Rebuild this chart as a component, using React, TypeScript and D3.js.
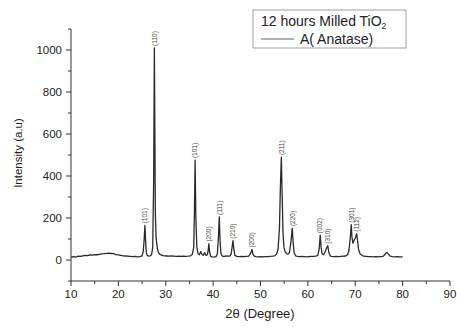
import React from "react";
import * as d3 from "d3";

const twoTheta: number[] = [
  10, 10.5, 11, 11.5, 12, 12.5, 13, 13.5, 14, 14.5, 15, 15.5, 16, 16.5, 17, 17.5, 18, 18.5, 19, 19.5,
  20, 20.5, 21, 21.5, 22, 22.5, 23, 23.5, 24, 24.5, 25, 25.25, 25.45, 25.6, 25.75, 25.9, 26.1, 26.4,
  26.7, 27.0, 27.25, 27.45, 27.6, 27.7, 27.8, 27.95, 28.1, 28.25, 28.45, 28.7, 29.0, 29.4, 29.8, 30.2,
  30.7, 31.2, 31.7, 32.2, 32.7, 33.2, 33.7, 34.2, 34.7, 35.2, 35.6, 35.9, 36.05, 36.2, 36.35, 36.55,
  36.8, 37.1, 37.4, 37.6, 37.9, 38.2, 38.5, 38.8, 38.95, 39.1, 39.25, 39.45, 39.8, 40.2, 40.6, 40.9,
  41.1, 41.3, 41.45, 41.65, 41.9, 42.3, 42.7, 43.1, 43.5, 43.8, 44.0, 44.2, 44.35, 44.6, 45, 45.5,
  46, 46.5, 47, 47.5, 47.9, 48.2, 48.4, 48.7, 49, 49.5, 50, 50.5, 51, 51.5, 52, 52.5, 53, 53.4,
  53.7, 54.0, 54.2, 54.4, 54.55, 54.75, 54.95, 55.2, 55.5, 55.8, 56.1, 56.4, 56.7, 56.9, 57.1, 57.4,
  57.8, 58.2, 58.7, 59.2, 59.7, 60.2, 60.7, 61.2, 61.7, 62.1, 62.4, 62.6, 62.8, 63.0, 63.3, 63.6,
  63.9, 64.2, 64.4, 64.7, 65, 65.5, 66, 66.5, 67, 67.5, 68, 68.4, 68.7, 69.0, 69.15, 69.3, 69.5,
  69.8, 70.1, 70.3, 70.5, 70.7, 71.0, 71.4, 71.8, 72.3, 72.8, 73.3, 73.8, 74.3, 74.8, 75.3, 75.8,
  76.2, 76.5, 76.7, 77.0, 77.4, 77.9, 78.4, 78.9, 79.4, 80,
];

const intensity: number[] = [
  12, 16, 14, 18, 17, 20, 22, 21, 24, 23, 26, 25, 27, 29, 30, 32, 33, 31, 30, 26,
  24, 22, 20, 19, 18, 17, 16, 17, 15, 16, 20, 40, 100, 165, 90, 35, 22, 18,
  20, 25, 60, 380, 1010, 620, 230, 110, 78, 52, 36, 28, 24, 21, 20, 19,
  18, 19, 18, 17, 18, 17, 18, 17, 18, 20, 26, 60, 220, 476, 210, 65,
  30, 25, 40, 28, 22, 35, 22, 25, 45, 78, 40, 18, 15, 14, 16, 30,
  100, 205, 100, 30, 20, 16, 20, 18, 18, 28, 60, 92, 55, 22, 17, 16,
  17, 16, 17, 18, 30, 50, 28, 18, 16, 15, 16, 15, 16, 16, 17, 18, 20, 28,
  50, 150, 350, 490, 330, 130, 60, 40, 30, 28, 35, 80, 152, 80, 35, 20,
  17, 16, 17, 16, 15, 16, 17, 17, 18, 22, 55, 118, 60, 30, 25, 38,
  55, 68, 38, 20, 17, 16, 17, 16, 17, 18, 19, 25, 50, 120, 168, 110, 80,
  95, 110, 125, 90, 50, 30, 22, 18, 17, 16, 16, 15, 16, 15, 16, 17,
  24, 33, 36, 28, 18, 16, 15, 16, 15, 15,
];

const peakPositions: number[] = [25.6, 27.6, 36.2, 39.1, 41.3, 44.2, 48.2, 54.4, 56.7, 62.6, 64.2, 69.15, 70.3];
const peakHeights: number[] = [165, 1010, 476, 78, 205, 92, 50, 490, 152, 118, 68, 168, 125];
const peakLabels: string[] = ["(101)", "(110)", "(101)", "(200)", "(111)", "(210)", "(200)", "(211)", "(220)", "(002)", "(310)", "(301)", "(112)"];

const xTicks: number[] = [10, 20, 30, 40, 50, 60, 70, 80, 90];
const yTicks: number[] = [0, 200, 400, 600, 800, 1000];

const W = 457;
const H = 327;
const left = 71;
const right = 450;
const top = 29;
const bottom = 281;

export default function App() {
  const x = d3.scaleLinear().domain([10, 90]).range([left, right]);
  const y = d3.scaleLinear().domain([-100, 1100]).range([bottom, top]);
  const pts: [number, number][] = twoTheta.map((t, i) => [t, intensity[i]]);
  const line = d3
    .line<[number, number]>()
    .x((d) => x(d[0]))
    .y((d) => y(d[1]));

  const xMinor = d3.range(15, 90, 10);
  const yMinor = d3.range(-100, 1101, 200);
  const axisColor = "#333";
  const textColor = "#222";
  const font = "Arial, 'Liberation Sans', sans-serif";

  return (
    <svg
      width={W}
      height={H}
      viewBox={`0 0 ${W} ${H}`}
      style={{ position: "absolute", left: 0, top: 0, background: "#fff" }}
      fontFamily={font}
    >
      <rect x={0} y={0} width={W} height={H} fill="#fff" />
      <path d={line(pts) || ""} fill="none" stroke="#2a2a2a" strokeWidth={1.3} strokeLinejoin="round" />

      {peakPositions.map((p, i) => {
        const px = x(p);
        const py = y(peakHeights[i]) - 2;
        return (
          <text
            key={i}
            transform={`translate(${px + 2.3},${py}) rotate(-90)`}
            fontSize={6.5}
            fontFamily={font}
            fill="#444"
          >
            {peakLabels[i]}
          </text>
        );
      })}

      <line x1={left} x2={left} y1={top} y2={bottom} stroke={axisColor} strokeWidth={1} />
      {yTicks.map((t) => (
        <g key={t}>
          <line x1={left - 5} x2={left} y1={y(t)} y2={y(t)} stroke={axisColor} />
          <text x={left - 9} y={y(t)} dy="0.35em" textAnchor="end" fontSize={11.5} fill={textColor}>
            {t}
          </text>
        </g>
      ))}
      {yMinor.map((t) => (
        <line key={"ym" + t} x1={left - 3} x2={left} y1={y(t)} y2={y(t)} stroke={axisColor} />
      ))}

      <line x1={left} x2={right} y1={bottom} y2={bottom} stroke={axisColor} strokeWidth={1} />
      {xTicks.map((t) => (
        <g key={t}>
          <line x1={x(t)} x2={x(t)} y1={bottom} y2={bottom + 5} stroke={axisColor} />
          <text x={x(t)} y={bottom + 17} textAnchor="middle" fontSize={11.5} fill={textColor}>
            {t}
          </text>
        </g>
      ))}
      {xMinor.map((t) => (
        <line key={"xm" + t} x1={x(t)} x2={x(t)} y1={bottom} y2={bottom + 3} stroke={axisColor} />
      ))}

      <text x={260} y={318} textAnchor="middle" fontSize={13} fill={textColor}>
        2θ (Degree)
      </text>
      <text transform={`translate(22,153) rotate(-90)`} textAnchor="middle" fontSize={11.5} fill={textColor}>
        Intensity (a.u)
      </text>

      <rect x={253} y={10} width={153} height={38} fill="#fff" stroke="#888" strokeWidth={0.8} />
      <text x={261} y={26} fontSize={14} fill={textColor}>
        12 hours Milled TiO
        <tspan fontSize={8.5} dy={3}>2</tspan>
      </text>
      <line x1={261} x2={294} y1={39} y2={39} stroke="#999" strokeWidth={1.5} />
      <text x={300} y={44} fontSize={14} fill={textColor}>
        A( Anatase)
      </text>
    </svg>
  );
}
